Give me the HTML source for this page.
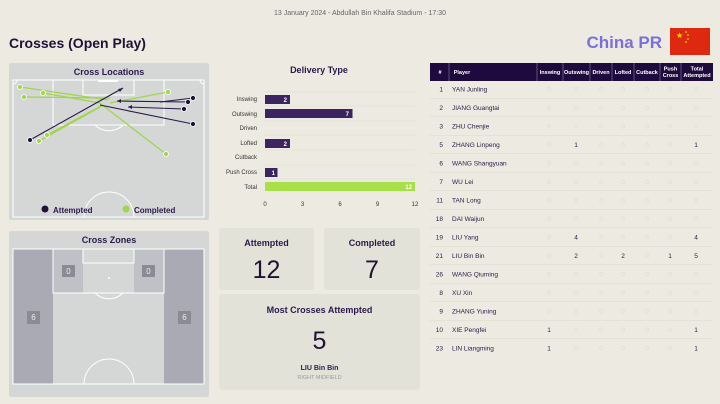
<!DOCTYPE html>
<html><head><meta charset="utf-8"><style>
body{margin:0;background:#eceae1;}
svg{display:block;font-family:"Liberation Sans",sans-serif;}
</style></head><body>
<svg width="720" height="404" viewBox="0 0 720 404" xmlns="http://www.w3.org/2000/svg">
<rect width="720" height="404" fill="#eceae1"/>
<text x="360" y="15" font-size="7" fill="#666" text-anchor="middle">13 January 2024 - Abdullah Bin Khalifa Stadium - 17:30</text>
<text x="9" y="48" font-size="14" font-weight="bold" fill="#1f1235">Crosses (Open Play)</text>
<text x="662" y="48" font-size="17" font-weight="bold" fill="#7b6fe0" text-anchor="end">China PR</text>
<rect x="670" y="28" width="40" height="27" fill="#de2910"/>
<text x="676" y="38" font-size="8" fill="#ffde00">★</text>
<circle cx="686" cy="32" r="0.9" fill="#ffde00"/><circle cx="688" cy="35" r="0.9" fill="#ffde00"/><circle cx="688" cy="39" r="0.9" fill="#ffde00"/><circle cx="686" cy="42" r="0.9" fill="#ffde00"/>

<!-- Cross Locations -->
<rect x="9" y="63" width="200" height="157" rx="2" fill="#d5d7d7"/>
<text x="109" y="75" font-size="9" font-weight="bold" fill="#2a1a4a" text-anchor="middle">Cross Locations</text>
<g fill="none" stroke="#fff" stroke-width="1">
<rect x="13" y="80" width="191" height="137"/>
<rect x="53" y="80" width="111" height="45"/>
<rect x="83" y="80" width="51" height="15"/>
<path d="M95 125 A20 20 0 0 0 123 125"/>
<path d="M84 217 A25 25 0 0 1 134 217"/>
<path d="M13 84 A4 4 0 0 0 17 80"/><path d="M200 80 A4 4 0 0 0 204 84"/>
</g>
<rect x="98" y="80" width="20" height="2" fill="#fff"/>
<g stroke="#9fd64a" stroke-width="1.3">
<line x1="20" y1="87" x2="108" y2="100"/><line x1="43" y1="93" x2="100" y2="103"/>
<line x1="24" y1="97" x2="110" y2="98"/><line x1="168" y1="92" x2="110" y2="103"/>
<line x1="39" y1="141" x2="100" y2="107"/><line x1="47" y1="135" x2="103" y2="105"/>
<line x1="166" y1="154" x2="97" y2="101"/>
</g>
<g stroke="#2a1a4a" stroke-width="1.1">
<line x1="30" y1="140" x2="123" y2="88"/><line x1="188" y1="102" x2="117" y2="101"/>
<line x1="184" y1="109" x2="128" y2="107"/><line x1="193" y1="124" x2="100" y2="105"/>
<line x1="193" y1="98" x2="160" y2="102"/>
</g>
<g fill="#2a1a4a"><path d="M123 88 l-5 1 2 3z"/><path d="M117 101 l4 -2 0 4z"/><path d="M128 107 l4 -2 0 4z"/></g>
<g fill="#9fd64a" stroke="#fff" stroke-width="0.8">
<circle cx="20" cy="87" r="2.5"/><circle cx="43" cy="93" r="2.5"/><circle cx="24" cy="97" r="2.5"/><circle cx="168" cy="92" r="2.5"/><circle cx="39" cy="141" r="2.5"/><circle cx="47" cy="135" r="2.5"/><circle cx="166" cy="154" r="2.5"/></g>
<g fill="#1f1235" stroke="#fff" stroke-width="0.8">
<circle cx="30" cy="140" r="2.5"/><circle cx="193" cy="98" r="2.5"/><circle cx="188" cy="102" r="2.5"/><circle cx="184" cy="109" r="2.5"/><circle cx="193" cy="124" r="2.5"/></g>
<circle cx="45" cy="209" r="3.5" fill="#1f1235"/><text x="53" y="213" font-size="8" font-weight="bold" fill="#2a1a4a">Attempted</text>
<circle cx="126" cy="209" r="3.5" fill="#9fd64a"/><text x="134" y="213" font-size="8" font-weight="bold" fill="#2a1a4a">Completed</text>

<!-- Cross Zones -->
<rect x="9" y="231" width="200" height="166" rx="2" fill="#d5d7d7"/>
<text x="109" y="243" font-size="9" font-weight="bold" fill="#2a1a4a" text-anchor="middle">Cross Zones</text>
<rect x="13" y="249" width="40" height="135" fill="#a9aab4"/>
<rect x="164" y="249" width="40" height="135" fill="#a9aab4"/>
<rect x="53" y="249" width="30" height="44" fill="#c0c1c6"/>
<rect x="134" y="249" width="30" height="44" fill="#c0c1c6"/>
<g fill="none" stroke="#fff" stroke-width="1">
<rect x="13" y="249" width="191" height="135"/>
<rect x="53" y="249" width="111" height="44"/>
<rect x="83" y="249" width="51" height="14"/>
<path d="M95 293 A20 20 0 0 0 123 293"/>
<path d="M84 384 A25 25 0 0 1 134 384"/>
</g>
<circle cx="109" cy="278" r="1" fill="#fff"/>
<g fill="#8a8b94"><rect x="62" y="265" width="13" height="12"/><rect x="142" y="265" width="13" height="12"/><rect x="27" y="311" width="13" height="13"/><rect x="178" y="311" width="13" height="13"/></g>
<g fill="#eee" font-size="8" text-anchor="middle"><text x="68.5" y="274">0</text><text x="148.5" y="274">0</text><text x="33.5" y="320">6</text><text x="184.5" y="320">6</text></g>

<!-- Delivery type -->
<text x="319" y="73" font-size="9" font-weight="bold" fill="#2a1a4a" text-anchor="middle">Delivery Type</text>
<g stroke="#e2e0d6" stroke-width="0.7"><line x1="265" y1="92" x2="415" y2="92"/><line x1="265" y1="106" x2="415" y2="106"/><line x1="265" y1="121" x2="415" y2="121"/><line x1="265" y1="135" x2="415" y2="135"/><line x1="265" y1="150" x2="415" y2="150"/><line x1="265" y1="165" x2="415" y2="165"/><line x1="265" y1="179" x2="415" y2="179"/></g>
<g font-size="6" fill="#333" text-anchor="end">
<text x="257" y="101">Inswing</text><text x="257" y="116">Outswing</text><text x="257" y="130">Driven</text><text x="257" y="145">Lofted</text><text x="257" y="159">Cutback</text><text x="257" y="174">Push Cross</text><text x="257" y="189">Total</text></g>
<g fill="#3b2460"><rect x="265" y="95" width="25" height="9"/><rect x="265" y="109" width="87.5" height="9"/><rect x="265" y="139" width="25" height="9"/><rect x="265" y="168" width="12.5" height="9"/></g>
<rect x="265" y="182" width="150" height="9" fill="#a8e04a"/>
<g font-size="6" fill="#fff" font-weight="bold" text-anchor="end"><text x="287" y="102">2</text><text x="349" y="116">7</text><text x="287" y="146">2</text><text x="275" y="175">1</text><text x="412" y="189">12</text></g>
<g font-size="6" fill="#333" text-anchor="middle"><text x="265" y="206">0</text><text x="302.5" y="206">3</text><text x="340" y="206">6</text><text x="377.5" y="206">9</text><text x="415" y="206">12</text></g>

<!-- stat boxes -->
<rect x="219" y="228" width="95" height="62" rx="3" fill="#e3e2d9"/>
<rect x="324" y="228" width="96" height="62" rx="3" fill="#e3e2d9"/>
<rect x="219" y="294" width="201" height="96" rx="3" fill="#e3e2d9"/>
<text x="266.5" y="246" font-size="9" font-weight="bold" fill="#2a1a4a" text-anchor="middle">Attempted</text>
<text x="372" y="246" font-size="9" font-weight="bold" fill="#2a1a4a" text-anchor="middle">Completed</text>
<text x="266.5" y="278" font-size="25" fill="#1f1235" text-anchor="middle">12</text>
<text x="372" y="278" font-size="25" fill="#1f1235" text-anchor="middle">7</text>
<text x="319.5" y="313" font-size="9" font-weight="bold" fill="#2a1a4a" text-anchor="middle">Most Crosses Attempted</text>
<text x="319.5" y="349" font-size="25" fill="#1f1235" text-anchor="middle">5</text>
<text x="319.5" y="370" font-size="7" font-weight="bold" fill="#2a1a4a" text-anchor="middle">LIU Bin Bin</text>
<text x="319.5" y="379" font-size="5.5" fill="#999" text-anchor="middle">RIGHT MIDFIELD</text>

<!-- table -->
<rect x="430" y="63" width="283" height="18" fill="#1f0a3d"/>
<g stroke="#8a7fb0" stroke-width="0.6"><line x1="449" y1="63" x2="449" y2="81"/><line x1="537" y1="63" x2="537" y2="81"/><line x1="563" y1="63" x2="563" y2="81"/><line x1="590" y1="63" x2="590" y2="81"/><line x1="612" y1="63" x2="612" y2="81"/><line x1="634" y1="63" x2="634" y2="81"/><line x1="660" y1="63" x2="660" y2="81"/><line x1="681" y1="63" x2="681" y2="81"/></g>
<g font-size="5.5" fill="#fff" font-weight="bold" text-anchor="middle">
<text x="440" y="74">#</text><text x="462" y="74">Player</text><text x="550" y="74">Inswing</text><text x="576.5" y="74">Outswing</text><text x="601" y="74">Driven</text><text x="623" y="74">Lofted</text><text x="647" y="74">Cutback</text><text x="670.5" y="70.5">Push</text><text x="670.5" y="77">Cross</text><text x="697" y="70.5">Total</text><text x="697" y="77">Attempted</text></g>
<g id="rows" font-size="6.5" fill="#2a1a4a"></g>
</svg>
<script>
var rows=[["1","YAN Junling"],["2","JIANG Guangtai"],["3","ZHU Chenjie"],["5","ZHANG Linpeng",0,1,0,0,0,0,1],["6","WANG Shangyuan"],["7","WU Lei"],["11","TAN Long"],["18","DAI Waijun"],["19","LIU Yang",0,4,0,0,0,0,4],["21","LIU Bin Bin",0,2,0,2,0,1,5],["26","WANG Qiuming"],["8","XU Xin"],["9","ZHANG Yuning"],["10","XIE Pengfei",1,0,0,0,0,0,1],["23","LIN Liangming",1,0,0,0,0,0,1]];
var cx=[549,576,601,623,647,670,696],g=document.getElementById("rows"),s="";
rows.forEach(function(r,i){var y=89+i*18.5;
s+='<text x="443" y="'+(y+2.3)+'" text-anchor="end">'+r[0]+'</text><text x="452" y="'+(y+2.3)+'">'+r[1]+'</text>';
for(var k=0;k<7;k++){var v=r[k+2]||0;s+='<text x="'+cx[k]+'" y="'+(y+2.3)+'" text-anchor="middle" fill="'+(v?'#2a1a4a':'#dcdad0')+'">'+v+'</text>';}
if(i<14)s+='<line x1="430" x2="713" y1="'+(y+9.25)+'" y2="'+(y+9.25)+'" stroke="#dad8cf" stroke-width="0.6"/>';});
g.innerHTML=s;
</script>
</body></html>
